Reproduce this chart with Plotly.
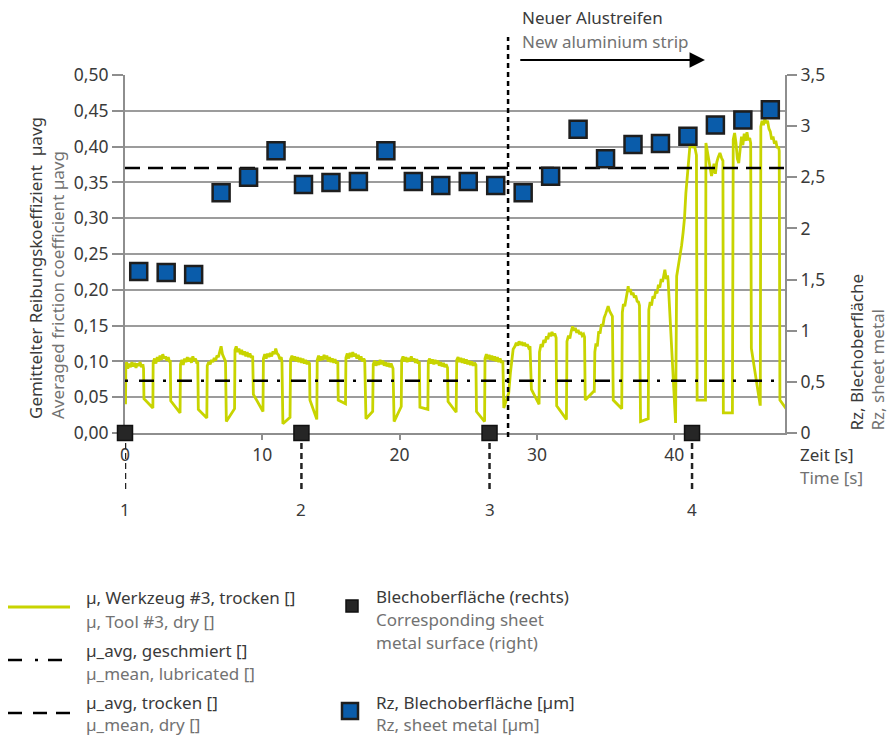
import plotly.graph_objects as go

# Friction coefficient, tool #3, dry: (time [s], mu [-]) grouped by stroke
mu_tool3_dry_points = [
    [(0.04, 0.040), (0.06, 0.094), (0.12, 0.099), (0.20, 0.090), (0.30, 0.097), (0.40, 0.092), (0.50, 0.099), (0.60, 0.093), (0.70, 0.098), (0.80, 0.091), (0.90, 0.097), (1.00, 0.094), (1.10, 0.099), (1.20, 0.092), (1.30, 0.096), (1.35, 0.090), (1.38, 0.048), (2.02, 0.035)],
    [(2.03, 0.035), (2.05, 0.098), (2.15, 0.104), (2.25, 0.097), (2.35, 0.106), (2.45, 0.100), (2.55, 0.108), (2.65, 0.102), (2.75, 0.110), (2.85, 0.104), (2.95, 0.107), (3.05, 0.101), (3.15, 0.106), (3.25, 0.099), (3.30, 0.102), (3.33, 0.045), (4.00, 0.028)],
    [(4.01, 0.028), (4.04, 0.096), (4.14, 0.102), (4.24, 0.095), (4.34, 0.104), (4.44, 0.099), (4.54, 0.106), (4.64, 0.100), (4.74, 0.105), (4.84, 0.098), (4.94, 0.107), (5.04, 0.101), (5.14, 0.104), (5.24, 0.097), (5.30, 0.100), (5.34, 0.033), (5.95, 0.021)],
    [(5.96, 0.021), (5.99, 0.094), (6.10, 0.099), (6.20, 0.096), (6.30, 0.102), (6.40, 0.099), (6.50, 0.105), (6.60, 0.101), (6.70, 0.108), (6.80, 0.106), (6.90, 0.113), (7.00, 0.121), (7.10, 0.110), (7.20, 0.106), (7.32, 0.100), (7.38, 0.016), (7.97, 0.034)],
    [(7.98, 0.034), (8.01, 0.116), (8.10, 0.121), (8.20, 0.113), (8.30, 0.118), (8.40, 0.110), (8.50, 0.116), (8.60, 0.109), (8.70, 0.114), (8.80, 0.107), (8.90, 0.113), (9.00, 0.106), (9.10, 0.111), (9.20, 0.105), (9.30, 0.108), (9.35, 0.054), (10.04, 0.030)],
    [(10.05, 0.030), (10.08, 0.104), (10.18, 0.110), (10.28, 0.104), (10.38, 0.111), (10.48, 0.106), (10.58, 0.112), (10.68, 0.107), (10.78, 0.114), (10.88, 0.110), (10.98, 0.118), (11.08, 0.111), (11.18, 0.109), (11.28, 0.103), (11.38, 0.106), (11.43, 0.100), (11.50, 0.013), (12.02, 0.022)],
    [(12.03, 0.022), (12.06, 0.103), (12.16, 0.108), (12.26, 0.101), (12.36, 0.107), (12.46, 0.100), (12.56, 0.106), (12.66, 0.099), (12.76, 0.105), (12.86, 0.098), (12.96, 0.104), (13.06, 0.097), (13.16, 0.102), (13.26, 0.096), (13.36, 0.100), (13.44, 0.097), (13.47, 0.046), (13.95, 0.019)],
    [(13.97, 0.019), (14.00, 0.102), (14.10, 0.108), (14.20, 0.101), (14.30, 0.107), (14.40, 0.102), (14.50, 0.109), (14.60, 0.103), (14.70, 0.108), (14.80, 0.100), (14.90, 0.106), (15.00, 0.099), (15.10, 0.104), (15.20, 0.098), (15.30, 0.103), (15.40, 0.097), (15.50, 0.100), (15.53, 0.046), (16.05, 0.041)],
    [(16.06, 0.041), (16.09, 0.105), (16.19, 0.111), (16.29, 0.104), (16.39, 0.112), (16.49, 0.106), (16.59, 0.113), (16.69, 0.107), (16.79, 0.111), (16.89, 0.104), (16.99, 0.109), (17.09, 0.102), (17.19, 0.107), (17.29, 0.100), (17.39, 0.104), (17.46, 0.101), (17.55, 0.020), (18.04, 0.030)],
    [(18.05, 0.030), (18.08, 0.096), (18.18, 0.101), (18.28, 0.094), (18.38, 0.100), (18.48, 0.095), (18.58, 0.102), (18.68, 0.096), (18.78, 0.101), (18.88, 0.094), (18.98, 0.099), (19.08, 0.093), (19.18, 0.098), (19.28, 0.092), (19.38, 0.097), (19.48, 0.093), (19.52, 0.090), (19.60, 0.016), (20.11, 0.037)],
    [(20.12, 0.037), (20.15, 0.102), (20.25, 0.107), (20.35, 0.100), (20.45, 0.106), (20.55, 0.099), (20.65, 0.105), (20.75, 0.100), (20.85, 0.107), (20.95, 0.101), (21.05, 0.104), (21.15, 0.098), (21.25, 0.103), (21.35, 0.097), (21.44, 0.100), (21.48, 0.036), (22.05, 0.033)],
    [(22.06, 0.033), (22.09, 0.100), (22.19, 0.104), (22.29, 0.097), (22.39, 0.103), (22.49, 0.096), (22.59, 0.102), (22.69, 0.097), (22.79, 0.101), (22.89, 0.094), (22.99, 0.099), (23.09, 0.093), (23.19, 0.098), (23.29, 0.092), (23.39, 0.096), (23.49, 0.091), (23.53, 0.044), (24.12, 0.029)],
    [(24.13, 0.029), (24.16, 0.102), (24.26, 0.106), (24.36, 0.099), (24.46, 0.105), (24.56, 0.098), (24.66, 0.104), (24.76, 0.097), (24.86, 0.103), (24.96, 0.096), (25.06, 0.101), (25.16, 0.095), (25.26, 0.100), (25.36, 0.094), (25.46, 0.098), (25.56, 0.095), (25.60, 0.030), (26.18, 0.016)],
    [(26.19, 0.016), (26.22, 0.104), (26.32, 0.110), (26.42, 0.103), (26.52, 0.109), (26.62, 0.102), (26.72, 0.108), (26.82, 0.101), (26.92, 0.107), (27.02, 0.100), (27.12, 0.106), (27.22, 0.099), (27.32, 0.104), (27.42, 0.098), (27.52, 0.101), (27.59, 0.035), (27.90, 0.051)],
    [(27.95, 0.056), (28.07, 0.084), (28.17, 0.104), (28.27, 0.117), (28.40, 0.121), (28.50, 0.126), (28.60, 0.122), (28.70, 0.128), (28.80, 0.123), (28.90, 0.127), (29.00, 0.122), (29.10, 0.126), (29.20, 0.121), (29.30, 0.124), (29.40, 0.119), (29.50, 0.121), (29.60, 0.061), (30.15, 0.040)],
    [(30.16, 0.040), (30.19, 0.113), (30.30, 0.124), (30.40, 0.120), (30.50, 0.130), (30.60, 0.126), (30.70, 0.135), (30.80, 0.131), (30.90, 0.140), (31.00, 0.135), (31.10, 0.141), (31.20, 0.136), (31.30, 0.139), (31.40, 0.133), (31.44, 0.038), (32.15, 0.019)],
    [(32.16, 0.019), (32.19, 0.128), (32.30, 0.136), (32.40, 0.132), (32.50, 0.142), (32.60, 0.149), (32.70, 0.143), (32.80, 0.147), (32.90, 0.140), (33.00, 0.144), (33.10, 0.138), (33.20, 0.141), (33.30, 0.136), (33.40, 0.138), (33.47, 0.134), (33.52, 0.046), (34.13, 0.058)],
    [(34.18, 0.058), (34.22, 0.113), (34.30, 0.125), (34.40, 0.121), (34.50, 0.142), (34.60, 0.139), (34.70, 0.152), (34.80, 0.149), (34.90, 0.161), (35.00, 0.166), (35.10, 0.172), (35.19, 0.177), (35.30, 0.170), (35.40, 0.167), (35.50, 0.163), (35.56, 0.046), (36.17, 0.034)],
    [(36.18, 0.034), (36.22, 0.168), (36.30, 0.180), (36.40, 0.177), (36.50, 0.192), (36.60, 0.199), (36.65, 0.205), (36.70, 0.197), (36.80, 0.201), (36.90, 0.193), (37.00, 0.196), (37.10, 0.189), (37.20, 0.192), (37.30, 0.184), (37.40, 0.183), (37.47, 0.178), (37.55, 0.016), (38.10, 0.020)],
    [(38.11, 0.020), (38.15, 0.172), (38.25, 0.183), (38.35, 0.178), (38.45, 0.191), (38.55, 0.188), (38.65, 0.198), (38.75, 0.195), (38.85, 0.207), (38.95, 0.203), (39.05, 0.215), (39.15, 0.211), (39.25, 0.222), (39.32, 0.228), (39.42, 0.215), (39.52, 0.220), (39.56, 0.212), (40.05, 0.014)],
    [(40.10, 0.014), (40.18, 0.219), (40.30, 0.232), (40.42, 0.248), (40.54, 0.262), (40.65, 0.280), (40.75, 0.300), (40.85, 0.335), (40.95, 0.360), (41.05, 0.385), (41.15, 0.402), (41.25, 0.408), (41.35, 0.398), (41.45, 0.404), (41.55, 0.393), (41.62, 0.388), (41.67, 0.046), (42.24, 0.046)],
    [(42.28, 0.046), (42.31, 0.405), (42.40, 0.395), (42.50, 0.378), (42.60, 0.368), (42.72, 0.359), (42.80, 0.366), (42.90, 0.376), (43.00, 0.362), (43.10, 0.378), (43.20, 0.385), (43.33, 0.391), (43.45, 0.384), (43.55, 0.380), (43.58, 0.028), (44.18, 0.028)],
    [(44.24, 0.028), (44.30, 0.410), (44.40, 0.419), (44.50, 0.405), (44.60, 0.383), (44.70, 0.377), (44.80, 0.398), (44.90, 0.414), (45.00, 0.402), (45.10, 0.418), (45.20, 0.408), (45.30, 0.420), (45.40, 0.409), (45.50, 0.412), (45.57, 0.405), (45.62, 0.118), (46.25, 0.040)],
    [(46.27, 0.040), (46.31, 0.428), (46.40, 0.436), (46.50, 0.430), (46.60, 0.439), (46.70, 0.433), (46.80, 0.436), (46.90, 0.425), (47.00, 0.421), (47.10, 0.410), (47.20, 0.414), (47.30, 0.404), (47.40, 0.408), (47.50, 0.398), (47.60, 0.400), (47.65, 0.394), (47.70, 0.046), (48.30, 0.030)],
]

# Roughness Rz of the sheet surface [µm] (right axis)
rz_time_s = [1, 3, 5, 7, 9, 11, 13, 15, 17, 19, 21, 23, 25, 27, 29, 31, 33, 35, 37, 39, 41, 43, 45, 47]
rz_um = [1.58, 1.57, 1.55, 2.35, 2.50, 2.76, 2.43, 2.45, 2.46, 2.76, 2.46, 2.42, 2.46, 2.42,
         2.35, 2.51, 2.97, 2.68, 2.82, 2.83, 2.90, 3.01, 3.06, 3.16]

# Positions of the corresponding sheet surfaces
sheet_time_s = [0, 12.85, 26.55, 41.3]
sheet_rz = [0, 0, 0, 0]
sheet_labels = ["1", "2", "3", "4"]

mu_mean_dry = 0.37
mu_mean_lubricated = 0.073
mu_mean_lubricated_end = 47.6
new_strip_time_s = 27.9
arrow_end_time_s = 42.24
time_max = 48.07

time_s = [p[0] for cyc in mu_tool3_dry_points for p in cyc]
mu_vals = [p[1] for cyc in mu_tool3_dry_points for p in cyc]

YELLOW = "#c8d400"
BLUE = "#0a5caa"
DARK = "#3a3a3a"
GREY = "#727272"
AXIS = "#8e8e8e"
FONT = "Noto Sans"
FS = 17

W, H = 889, 737
L, R, T, B = 125, 785, 75, 433


def fx(px):
    return (px - L) / (R - L)


def fy(py):
    return (B - py) / (B - T)


fig = go.Figure()

fig.add_trace(go.Scatter(x=time_s, y=mu_vals, mode="lines",
                         line=dict(color=YELLOW, width=2.8), showlegend=False))
fig.add_trace(go.Scatter(x=[0, time_max], y=[mu_mean_dry, mu_mean_dry], mode="lines",
                         line=dict(color="black", width=2.5, dash="15px,8px"), showlegend=False))
fig.add_trace(go.Scatter(x=[0, mu_mean_lubricated_end], y=[mu_mean_lubricated, mu_mean_lubricated],
                         mode="lines", line=dict(color="black", width=2.5, dash="3px,11px,15px,9px"),
                         showlegend=False))
fig.add_trace(go.Scatter(x=rz_time_s, y=rz_um, yaxis="y2", mode="markers",
                         marker=dict(symbol="square", size=17, color=BLUE,
                                     line=dict(color="#1e1e1e", width=2.5)),
                         cliponaxis=False, showlegend=False))
fig.add_trace(go.Scatter(x=sheet_time_s, y=sheet_rz, yaxis="y2", mode="markers",
                         marker=dict(symbol="square", size=15, color="#262626",
                                     line=dict(color="#111111", width=1.5)),
                         cliponaxis=False, showlegend=False))

shapes = []
# new aluminium strip marker line
shapes.append(dict(type="line", xref="x", yref="paper", x0=new_strip_time_s, x1=new_strip_time_s,
                   y0=fy(437), y1=fy(37), line=dict(color="black", width=2.5, dash="5px,4px")))
# dotted leaders below the sheet surface markers
for t in sheet_time_s:
    shapes.append(dict(type="line", xref="x", yref="paper", x0=t, x1=t, y0=fy(443), y1=fy(490),
                       line=dict(color="#222222", width=2.5, dash="6px,4px")))

# legend symbols
shapes.append(dict(type="line", xref="paper", yref="paper", x0=fx(8), x1=fx(70), y0=fy(607), y1=fy(607),
                   line=dict(color=YELLOW, width=2.8)))
for a, b in [(8, 22), (35, 38), (48, 62)]:
    shapes.append(dict(type="line", xref="paper", yref="paper", x0=fx(a), x1=fx(b), y0=fy(660), y1=fy(660),
                       line=dict(color="black", width=2.5)))
for a, b in [(8, 22), (33, 47), (56, 70)]:
    shapes.append(dict(type="line", xref="paper", yref="paper", x0=fx(a), x1=fx(b), y0=fy(713), y1=fy(713),
                       line=dict(color="black", width=2.5)))
shapes.append(dict(type="rect", xref="paper", yref="paper", x0=fx(346), x1=fx(358), y0=fy(612), y1=fy(600),
                   fillcolor="#262626", line=dict(color="#111111", width=1.5)))
shapes.append(dict(type="rect", xref="paper", yref="paper", x0=fx(342), x1=fx(358), y0=fy(719), y1=fy(703),
                   fillcolor=BLUE, line=dict(color="#1e1e1e", width=2.5)))

ann = []


def text(px, py, s, color=DARK, size=FS, xanchor="left", angle=0, yanchor="middle"):
    ann.append(dict(x=fx(px), y=fy(py), xref="paper", yref="paper", text=s, showarrow=False,
                    xanchor=xanchor, yanchor=yanchor, textangle=angle,
                    font=dict(family=FONT, size=size, color=color)))


# arrow for the new strip
ann.append(dict(x=arrow_end_time_s, y=fy(60), xref="x", yref="paper",
                ax=new_strip_time_s + 0.78, ay=0, axref="x", ayref="pixel",
                text="", showarrow=True, arrowhead=2, arrowsize=1.4, arrowwidth=2.2,
                arrowcolor="black", standoff=0, startstandoff=0))
text(520, 18, "Neuer Alustreifen", DARK)
text(520, 41, "New aluminium strip", GREY)

# sheet surface numbers
for t, lab in zip(sheet_time_s, sheet_labels):
    ann.append(dict(x=t, y=fy(510), xref="x", yref="paper", text=lab, showarrow=False,
                    xanchor="center", yanchor="middle", font=dict(family=FONT, size=FS, color=DARK)))

# axis titles
text(35, 421, "Gemittelter Reibungskoeffizient  µavg", DARK, FS, "center", -90, "bottom")
text(57, 421, "Averaged friction coefficient µavg", GREY, FS, "center", -90, "bottom")
text(856, 433, "Rz, Blechoberfläche", DARK, FS, "center", -90, "bottom")
text(877, 433, "Rz, sheet metal", GREY, FS, "center", -90, "bottom")
text(798, 454, "Zeit [s]", DARK)
text(798, 477, "Time [s]", GREY)

# legend texts
text(84, 597, "µ, Werkzeug #3, trocken []", DARK)
text(84, 621, "µ, Tool #3, dry []", GREY)
text(84, 650, "µ_avg, geschmiert []", DARK)
text(84, 673, "µ_mean, lubricated []", GREY)
text(84, 702, "µ_avg, trocken []", DARK)
text(84, 724, "µ_mean, dry []", GREY)
text(374, 596, "Blechoberfläche (rechts)", DARK)
text(374, 619, "Corresponding sheet", GREY)
text(374, 642, "metal surface (right)", GREY)
text(374, 702, "Rz, Blechoberfläche [µm]", DARK)
text(374, 724, "Rz, sheet metal [µm]", GREY)

tickfont = dict(family=FONT, size=17.5, color=DARK)
fig.update_layout(
    width=W, height=H,
    margin=dict(l=L, r=W - R, t=T, b=H - B, pad=0),
    paper_bgcolor="white", plot_bgcolor="white",
    separators=", ",
    font=dict(family=FONT, size=FS, color=DARK),
    showlegend=False,
    xaxis=dict(range=[0, time_max], tickvals=[0, 10, 20, 30, 40], ticks="outside", ticklen=5,
               tickwidth=1.5, tickcolor=AXIS, showline=True, linecolor=AXIS, linewidth=2,
               showgrid=False, zeroline=False, tickfont=tickfont, layer="below traces"),
    yaxis=dict(range=[0, 0.5], dtick=0.05, tick0=0, tickformat=".2f", ticks="outside", ticklen=11,
               tickwidth=2, tickcolor=AXIS, showline=True, linecolor=AXIS, linewidth=2,
               showgrid=True, gridcolor="#9c9c9c", gridwidth=1.5, zeroline=False,
               tickfont=tickfont, layer="below traces"),
    yaxis2=dict(range=[0, 3.5], dtick=0.5, tick0=0, overlaying="y", side="right", ticks="outside",
                ticklen=10, tickwidth=2, tickcolor=AXIS, showline=True, linecolor=AXIS, linewidth=2,
                showgrid=False, zeroline=False, tickfont=tickfont, layer="below traces"),
    shapes=shapes,
    annotations=ann,
)

fig.write_html("out.html")
